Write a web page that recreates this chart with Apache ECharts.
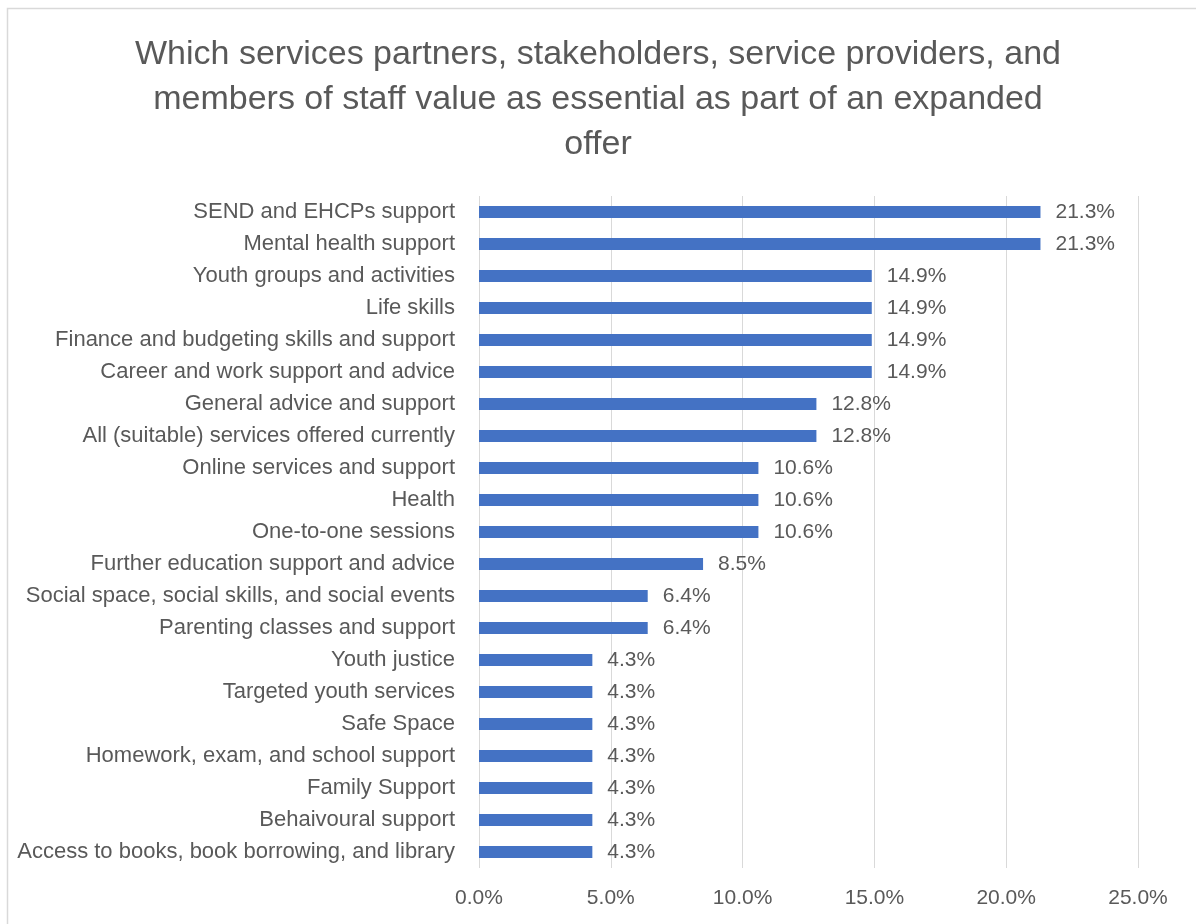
<!DOCTYPE html>
<html>
<head>
<meta charset="utf-8">
<script src="https://cdn.jsdelivr.net/npm/echarts@6/dist/echarts.min.js"></script>
<style>
  html, body { margin: 0; padding: 0; background: #ffffff; overflow: hidden; }
  #chart { width: 1196px; height: 924px; }
</style>
</head>
<body>
<div id="chart"></div>
<script>
// Services rated as essential, listed top to bottom
const categories = [
  'SEND and EHCPs support',
  'Mental health support',
  'Youth groups and activities',
  'Life skills',
  'Finance and budgeting skills and support',
  'Career and work support and advice',
  'General advice and support',
  'All (suitable) services offered currently',
  'Online services and support',
  'Health',
  'One-to-one sessions',
  'Further education support and advice',
  'Social space, social skills, and social events',
  'Parenting classes and support',
  'Youth justice',
  'Targeted youth services',
  'Safe Space',
  'Homework, exam, and school support',
  'Family Support',
  'Behaivoural support',
  'Access to books, book borrowing, and library'
];

// Share of respondents (%)
const shares = [
  21.3, 21.3, 14.9, 14.9, 14.9, 14.9, 12.8, 12.8, 10.6, 10.6, 10.6,
  8.5, 6.4, 6.4, 4.3, 4.3, 4.3, 4.3, 4.3, 4.3, 4.3
];

// Value axis ticks (%)
const axisMin = 0;
const axisMax = 25;
const axisStep = 5;

const titleText = 'Which services partners, stakeholders, service providers, and\nmembers of staff value as essential as part of an expanded\noffer';

const FONT = 'Liberation Sans';
const TEXT = '#595959';

const chart = echarts.init(document.getElementById('chart'), null, { renderer: 'canvas' });

chart.setOption({
  backgroundColor: '#ffffff',
  animation: false,
  graphic: [{
    // chart-area frame (runs off the right and bottom edges)
    type: 'rect',
    left: 5, top: 6,
    shape: { x: 0.5, y: 0.5, width: 1200, height: 930 },
    style: { fill: 'none', stroke: '#d9d9d9', lineWidth: 1.5 },
    silent: true
  }],
  title: {
    text: titleText,
    left: 'center',
    top: 27,
    textStyle: {
      fontFamily: FONT,
      fontSize: 34,
      fontWeight: 'normal',
      color: TEXT,
      lineHeight: 45,
      align: 'center'
    }
  },
  grid: {
    left: 479,
    right: 58,
    top: 196,
    bottom: 56,
    containLabel: false
  },
  xAxis: {
    type: 'value',
    min: axisMin,
    max: axisMax,
    interval: axisStep,
    axisLine: { show: false },
    axisTick: { show: false },
    splitLine: { show: true, lineStyle: { color: '#d9d9d9', width: 1 } },
    axisLabel: {
      margin: 20,
      fontFamily: FONT,
      fontSize: 21,
      color: TEXT,
      formatter: v => v.toFixed(1) + '%'
    }
  },
  yAxis: {
    type: 'category',
    data: categories,
    inverse: true,
    axisLine: { show: false },
    axisTick: { show: false },
    splitLine: { show: false },
    axisLabel: {
      margin: 24,
      fontFamily: FONT,
      fontSize: 22,
      color: TEXT
    }
  },
  series: [{
    type: 'bar',
    data: shares,
    barWidth: 12,
    itemStyle: { color: '#4472C4' },
    label: {
      show: true,
      position: 'right',
      distance: 15,
      fontFamily: FONT,
      fontSize: 21,
      color: TEXT,
      formatter: p => p.value.toFixed(1) + '%'
    }
  }]
});
</script>
</body>
</html>
